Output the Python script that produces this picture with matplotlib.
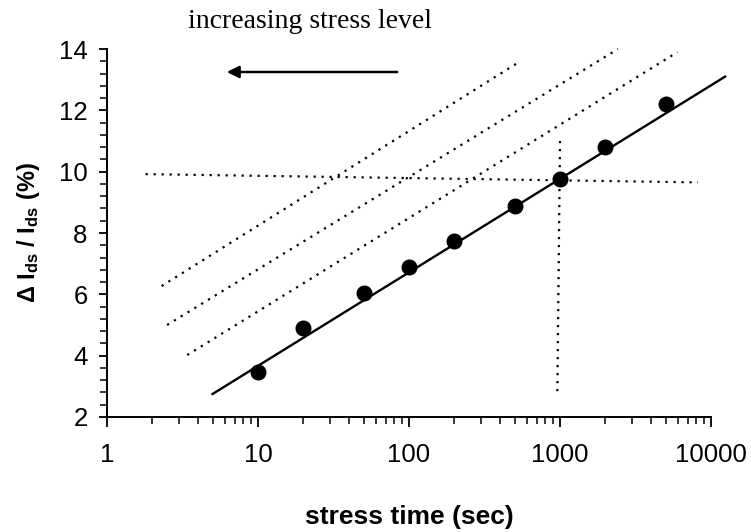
import matplotlib
matplotlib.use("Agg")
import matplotlib.pyplot as plt
from matplotlib.ticker import FixedLocator, NullFormatter

# ---- data ----
stress_time = [10, 20, 50, 100, 200, 500, 1000, 2000, 5000]
delta_ids = [3.47, 4.90, 6.04, 6.89, 7.74, 8.88, 9.76, 10.80, 12.20]

fit_t = [5, 12400]
fit_d = [2.75, 13.1]

shift1_t = [2.3, 545]
shift1_d = [6.27, 13.6]
shift2_t = [2.5, 2420]
shift2_d = [5.0, 14.0]
shift3_t = [3.4, 6000]
shift3_d = [4.02, 13.9]

hline_t = [1.8, 8200]
hline_d = [9.92, 9.65]
vline_t = [1000, 960]
vline_d = [11.0, 2.72]

x_ticks = [1, 10, 100, 1000, 10000]
x_ticklabels = ["1", "10", "100", "1000", "10000"]
y_ticks = [2, 4, 6, 8, 10, 12, 14]
y_ticklabels = ["2", "4", "6", "8", "10", "12", "14"]

plt.rcParams['mathtext.fontset'] = 'custom'
plt.rcParams['mathtext.rm'] = 'Liberation Sans:bold'
plt.rcParams['mathtext.it'] = 'Liberation Sans:bold'

fig = plt.figure(figsize=(7.51, 5.32), dpi=100)
ax = fig.add_axes([107/751, 1-417/532, (711-107)/751, (417-49)/532])

ax.set_xscale('log')
ax.set_xlim(1, 10000)
ax.set_ylim(2, 14)

dot = (0, (1, 2.6))
for tx, ty in [(shift1_t, shift1_d), (shift2_t, shift2_d), (shift3_t, shift3_d),
               (hline_t, hline_d), (vline_t, vline_d)]:
    ax.plot(tx, ty, color='black', lw=1.6, linestyle=dot, clip_on=False)

ax.plot(fit_t, fit_d, color='black', lw=1.7, clip_on=False)
ax.plot(stress_time, delta_ids, 'o', color='black', markersize=10.5, clip_on=False)

# spines
for s in ['top', 'right']:
    ax.spines[s].set_visible(False)
for s in ['left', 'bottom']:
    ax.spines[s].set_linewidth(1.4)

ax.xaxis.set_major_locator(FixedLocator(x_ticks))
ax.set_xticklabels(x_ticklabels)
minor_x = [m * 10**e for e in range(0, 4) for m in range(2, 10)]
ax.xaxis.set_minor_locator(FixedLocator(minor_x))
ax.xaxis.set_minor_formatter(NullFormatter())

ax.yaxis.set_major_locator(FixedLocator(y_ticks))
ax.set_yticklabels(y_ticklabels)
minor_y = [2 + 0.4 * i for i in range(31) if i % 5 != 0]
ax.yaxis.set_minor_locator(FixedLocator(minor_y))

ax.tick_params(axis='x', which='major', direction='out', length=7, width=1.3, pad=12, labelsize=18.5)
ax.tick_params(axis='x', which='minor', direction='out', length=5, width=1.1)
ax.tick_params(axis='y', which='major', direction='out', length=6, width=1.3, pad=8, labelsize=18.5)
ax.tick_params(axis='y', which='minor', direction='out', length=5, width=1.1)
for lab in ax.get_xticklabels() + ax.get_yticklabels():
    lab.set_fontfamily('Liberation Sans')

ax.set_xlabel('stress time (sec)', fontsize=19, fontweight='bold',
              fontfamily='Liberation Sans', labelpad=27)
ax.set_ylabel(r'$\Delta$ I$_{\rm ds}$ / I$_{\rm ds}$ (%)', fontsize=17, fontweight='bold',
              fontfamily='Liberation Sans', labelpad=12)

# annotation arrow and title text
ax.annotate('', xy=(5.96, 13.25), xytext=(87, 13.25),
            arrowprops=dict(arrowstyle='-|>', color='black', lw=1.8, mutation_scale=18))
fig.text(310/751, 1-21/532, 'increasing stress level', fontsize=20,
         fontfamily='Liberation Serif', ha='center', va='center')

fig.savefig('out.png', dpi=100)
